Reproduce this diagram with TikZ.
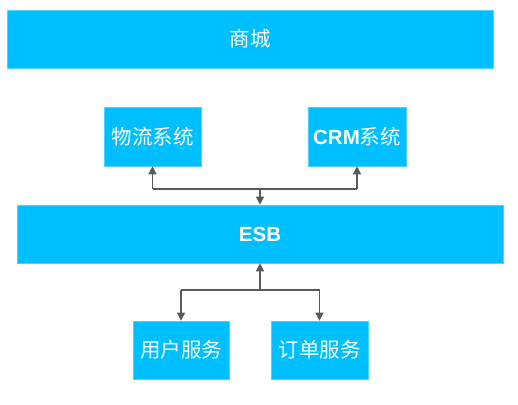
\documentclass[tikz,border=0pt]{standalone}
\usepackage{fontspec}
\setmainfont{Liberation Sans}
\newfontfamily\cjk{Noto Sans CJK SC}
\usetikzlibrary{arrows.meta}
\definecolor{boxblue}{HTML}{00BFFF}
\definecolor{linegray}{HTML}{5A5A5A}
\begin{document}
\begin{tikzpicture}[x=1pt,y=-1pt,
  blk/.style={fill=boxblue,draw=boxblue!70!white,line width=0.6pt,inner sep=0pt,text=white,font=\fontsize{20.5}{22}\selectfont},
  conn/.style={draw=linegray,line width=1.3pt,-{Triangle[length=8pt,width=8pt]}},
  plain/.style={draw=linegray,line width=1.3pt}]
\useasboundingbox (0,0) rectangle (518,404);
\node[blk,minimum width=486pt,minimum height=58pt] (mall) at (250,39) {\cjk 商城};
\node[blk,minimum width=97pt,minimum height=59pt] (wl) at (152.5,136.5) {\cjk 物流系统};
\node[blk,minimum width=98pt,minimum height=59pt] (crm) at (357,136.5) {\textbf{CRM}{\cjk 系统}};
\node[blk,minimum width=486pt,minimum height=58pt] (esb) at (260,234) {\textbf{ESB}};
\node[blk,minimum width=96pt,minimum height=58pt] (yh) at (181,350) {\cjk 用户服务};
\node[blk,minimum width=97pt,minimum height=58pt] (dd) at (319.5,350) {\cjk 订单服务};
\coordinate (j1) at (260,189);
\coordinate (j2) at (260,290);
\draw[plain] (wl.south |- j1) -- (crm.south |- j1);
\draw[conn] (j1) -- (esb.north);
\draw[conn] (wl.south |- j1) -- (wl.south);
\draw[conn] (crm.south |- j1) -- (crm.south);
\draw[plain] (yh.north |- j2) -- (dd.north |- j2);
\draw[conn] (j2) -- (esb.south);
\draw[conn] (yh.north |- j2) -- (yh.north);
\draw[conn] (dd.north |- j2) -- (dd.north);
\end{tikzpicture}
\end{document}
